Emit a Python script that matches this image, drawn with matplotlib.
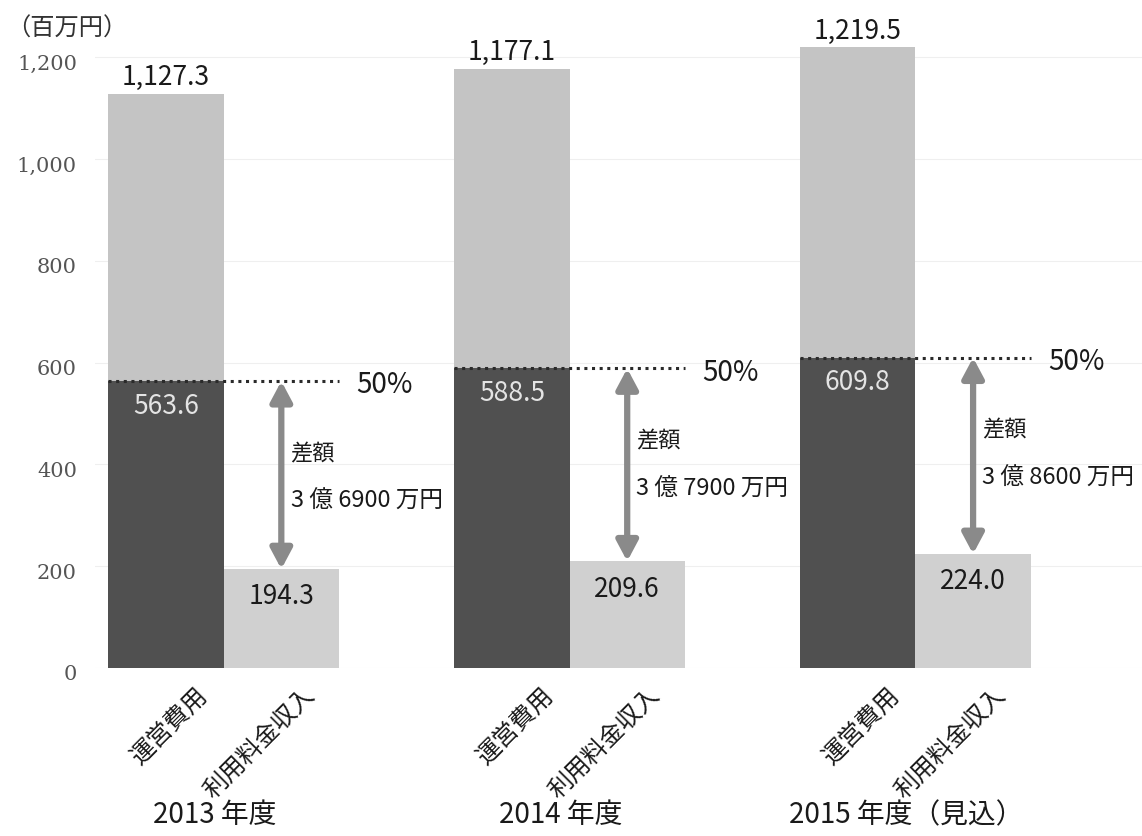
#!/usr/bin/env python3
# -*- coding: utf-8 -*-
"""
運営費用と利用料金収入 (2013-2015年度)
"""

import matplotlib
matplotlib.use('Agg')
import matplotlib.pyplot as plt
import matplotlib.transforms as mtransforms
import numpy as np

FONT = ['Noto Sans CJK JP', 'DejaVu Sans']
plt.rcParams['font.family'] = FONT

# データ (百万円)
years = ['2013 年度', '2014 年度', '2015 年度（見込）']
bar_names = ['運営費用', '利用料金収入']
cost_total = [1127.3, 1177.1, 1219.5]
cost_half = [563.6, 588.5, 609.8]
income = [194.3, 209.6, 224.0]
diff_labels = ['3 億 6900 万円', '3 億 7900 万円', '3 億 8600 万円']
y_ticks = [0, 200, 400, 600, 800, 1000, 1200]
y_tick_labels = ['0', '200', '400', '600', '800', '1,000', '1,200']

# 配色
COLOR_UPPER = '#c4c4c4'
COLOR_LOWER = '#505050'
COLOR_INCOME = '#d0d0d0'
COLOR_ARROW = '#8a8a8a'


def main():
    fig = plt.figure(figsize=(11.42, 8.36), dpi=100)
    ax = fig.add_axes([95 / 1142, 168 / 836, 1 - 95 / 1142, 0.7915])

    x = np.arange(len(years)) * 3.0
    w = 1.0

    # 棒
    upper = np.array(cost_total) - np.array(cost_half)
    ax.bar(x, cost_half, width=w, color=COLOR_LOWER, zorder=2)
    ax.bar(x, upper, width=w, bottom=cost_half, color=COLOR_UPPER, zorder=2)
    ax.bar(x + 1, income, width=w, color=COLOR_INCOME, zorder=2)

    for i in range(len(years)):
        xc = x[i]
        xi = x[i] + 1

        # 合計
        ax.annotate(f'{cost_total[i]:,.1f}', (xc, cost_total[i]),
                    xytext=(0, 2), textcoords='offset points',
                    ha='center', va='bottom', fontsize=19, color='#1a1a1a')
        # 50%値
        ax.annotate(f'{cost_half[i]:.1f}', (xc, cost_half[i]),
                    xytext=(0, -18), textcoords='offset points',
                    ha='center', va='center', fontsize=19, color='#e4e4e4', zorder=4)
        # 収入
        ax.annotate(f'{income[i]:.1f}', (xi, income[i]),
                    xytext=(0, -20), textcoords='offset points',
                    ha='center', va='center', fontsize=19, color='#1a1a1a', zorder=4)

        # 50%ライン
        ax.plot([xc - w / 2, xi + w / 2], [cost_half[i], cost_half[i]],
                linestyle=(0, (1, 1.5)), color='#2a2a2a', linewidth=2.2, zorder=3)
        ax.text(xi + w / 2 + 0.15, cost_half[i] - 8, '50%', fontsize=20,
                ha='left', va='center', color='#1a1a1a')

        # 差額の矢印
        ax.annotate('', xy=(xi, income[i]), xytext=(xi, cost_half[i]),
                    arrowprops=dict(arrowstyle='<|-|>,head_length=0.6,head_width=0.32',
                                    color=COLOR_ARROW, lw=4.5, mutation_scale=20,
                                    shrinkA=0, shrinkB=0), zorder=3)
        ax.text(xi + 0.08, cost_half[i] - 143, '差額', fontsize=16,
                ha='left', va='center', color='#1a1a1a')
        ax.text(xi + 0.08, cost_half[i] - 237, diff_labels[i], fontsize=17,
                ha='left', va='center', color='#1a1a1a')

        # 項目名 (斜め)
        ax.text(xc + 0.4, -28, bar_names[0], rotation=45, ha='right', va='top',
                fontsize=17.5, color='#1a1a1a', clip_on=False)
        ax.text(xi + 0.33, -28, bar_names[1], rotation=45, ha='right', va='top',
                fontsize=17.5, color='#1a1a1a', clip_on=False)

    # 年度
    trans = mtransforms.blended_transform_factory(ax.transData, fig.transFigure)
    for i, label in enumerate(years):
        ax.text(x[i] + 0.42, 0.025, label, transform=trans, ha='center',
                va='center', fontsize=20, family=FONT, color='#1a1a1a')

    # 単位
    fig.text(6 / 1142, 1 - 29 / 836, '（百万円）', ha='left', va='center',
             fontsize=17.5, color='#333333')

    # 軸
    ax.set_xlim(-0.616, 8.465)
    ax.set_ylim(0, 1300)
    ax.set_xticks([])
    ax.set_yticks(y_ticks)
    ax.set_yticklabels(y_tick_labels, family='DejaVu Serif', fontsize=15, color='#555555')
    ax.tick_params(axis='y', length=0, pad=13)
    shift = mtransforms.ScaledTranslation(0, -5 / 100, fig.dpi_scale_trans)
    for lab in ax.get_yticklabels():
        lab.set_transform(lab.get_transform() + shift)
    for s in ax.spines.values():
        s.set_visible(False)
    ax.yaxis.grid(True, color='#efefef', linewidth=0.8)
    ax.set_axisbelow(True)

    fig.savefig('out.png', dpi=100)
    plt.close(fig)


if __name__ == '__main__':
    main()
